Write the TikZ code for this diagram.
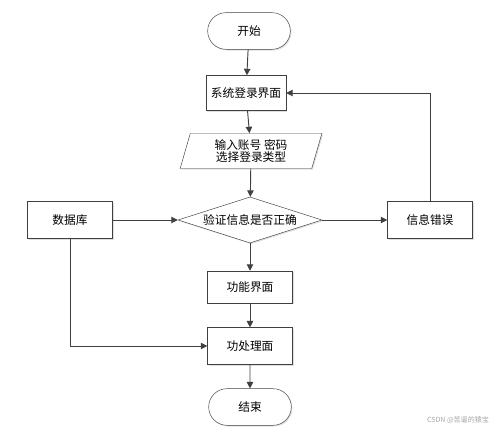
\documentclass[tikz,border=0pt]{standalone}
\usepackage{fontspec}
\usepackage{xcolor}
\usetikzlibrary{shapes.geometric}
\usetikzlibrary{shapes.misc}
\usetikzlibrary{arrows.meta}
\usetikzlibrary{shadows}
\newfontfamily\cjk{Noto Sans CJK SC}
\definecolor{line-grey}{RGB}{64, 64, 64}
\tikzset{
    base/.style={draw=line-grey, fill=white, font=\cjk\fontsize{10}{12}\selectfont, inner sep=1pt,
        drop shadow={opacity=0.25, shadow xshift=1pt, shadow yshift=-1pt}},
    terminal/.style={base, rounded rectangle, minimum width=2.55cm, minimum height=1.1cm},
    process/.style={base, rectangle, minimum width=2.55cm, minimum height=1.1cm},
    io/.style={base, trapezium, trapezium left angle=68, trapezium right angle=112,
        trapezium stretches body, minimum width=4.25cm, minimum height=1.05cm, align=center},
    decision/.style={base, diamond, aspect=2.67, minimum width=4.32cm, inner sep=0pt},
    line/.style={draw=line-grey, thick, -{Triangle[width=5.5pt, length=5.5pt]}}
}

\begin{document}
\begin{tikzpicture}[x=0.03cm, y=-0.03cm]
                \useasboundingbox (0, 0) rectangle (496, 431);
                \node[terminal] (start) at (249, 31) {开始};
                \node[process, minimum width=2.4cm, minimum height=1.05cm] (login) at (246, 93) {系统登录界面};
                \node[io] (input) at (251, 151) {输入账号 密码\\[-2pt]选择登录类型};
                \node[decision] (check) at (250, 220) {验证信息是否正确};
                \node[process] (db) at (70, 220) {数据库};
                \node[process] (error) at (430, 220) {信息错误};
                \node[process, minimum height=0.96cm] (menu) at (250, 287) {功能界面};
                \node[process] (proc) at (250, 346) {功处理面};
                \node[terminal] (stop) at (250, 407) {结束};
                \draw[line] (start) -- (login);
                \draw[line] (login) -- (input);
                \draw[line] (input) -- (check);
                \draw[line] (check) -- (menu);
                \draw[line] (menu) -- (proc);
                \draw[line] (proc) -- (stop);
                \draw[line] (db) -- (check);
                \draw[line] (check) -- (error);
                \draw[line] (error.north) |- (login.east);
                \draw[line] (db.south) |- (proc.west);
                \node[anchor=east, text=black!35, font=\cjk\fontsize{6}{7}\selectfont] (mark) at (493, 420) {CSDN @苦逼的猿宝};
            \end{tikzpicture}
\end{document}
